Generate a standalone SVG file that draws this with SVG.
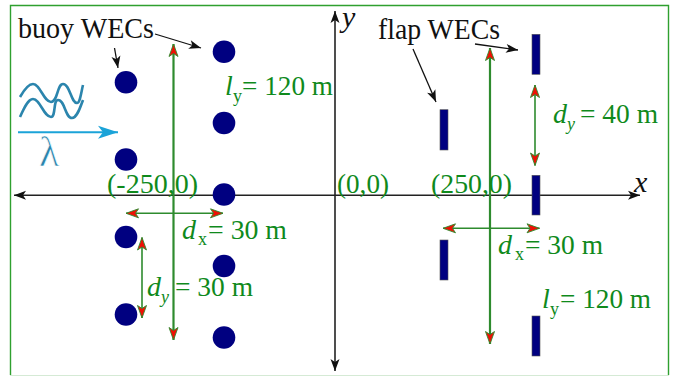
<svg xmlns="http://www.w3.org/2000/svg" width="675" height="376" viewBox="0 0 675 376">
<style>
text{font-family:"Liberation Serif","Times New Roman",serif}
.t{font-size:28.500px;fill:#111}
.g{font-size:28px;fill:#0f8a1c}
.s{font-size:18px;fill:#0f8a1c}
.i{font-style:italic}
.b{fill:#000080}
.f{fill:#000080;stroke:#555;stroke-width:.6}
.ax{stroke:#222;stroke-width:1.600;fill:none}
.p{stroke:#111;stroke-width:1.300;fill:none}
.ga{stroke:#2e8b2e;fill:none}
.w{fill:none;stroke:#2b85ad;stroke-width:2.600}
</style>
<defs>
<marker id="bk" markerUnits="userSpaceOnUse" markerWidth="16" markerHeight="12" refX="13" refY="6" orient="auto-start-reverse"><path d="M13 6L1 1.500L4 6L1 10.500Z" fill="#111"/></marker>
<marker id="gr" markerUnits="userSpaceOnUse" markerWidth="16" markerHeight="14" refX="14.500" refY="7" orient="auto-start-reverse"><path d="M14.500 7L2 2.500L5 7L2 11.500Z" fill="#ee1005" stroke="#2e8b2e" stroke-width=".9"/></marker>
<marker id="cy" markerUnits="userSpaceOnUse" markerWidth="24" markerHeight="16" refX="22" refY="8" orient="auto"><path d="M22 8L2 1.500L7 8L2 14.500Z" fill="#1ba3d8"/></marker>
</defs>
<rect width="675" height="376" fill="#fff"/>
<path d="M10.500 375V5.500H668.500V375" fill="none" stroke="#2fa02f" stroke-width="1.400"/>
<path d="M10 375.500H669" stroke="#d5ead5" stroke-width="1"/>

<g id="connectors">
<path class="ax" d="M640 195.300H14" marker-start="url(#bk)" marker-end="url(#bk)"/>
<path class="ax" d="M335 371V11" marker-start="url(#bk)" marker-end="url(#bk)"/>
<path class="p" d="M155 34L201 48" marker-end="url(#bk)"/>
<path class="p" d="M114.500 48L118 68" marker-end="url(#bk)"/>
<path class="p" d="M413 49L436 102" marker-end="url(#bk)"/>
<path class="p" d="M475 44L518 50" marker-end="url(#bk)"/>
<path class="ga" stroke-width="2.200" d="M173.500 44V340" marker-start="url(#gr)" marker-end="url(#gr)"/>
<path class="ga" stroke-width="2.200" d="M490 48V344" marker-start="url(#gr)" marker-end="url(#gr)"/>
<path class="ga" stroke-width="1.600" d="M126 213.300H223" marker-start="url(#gr)" marker-end="url(#gr)"/>
<path class="ga" stroke-width="1.600" d="M142 237.500V318" marker-start="url(#gr)" marker-end="url(#gr)"/>
<path class="ga" stroke-width="1.600" d="M535 85V165.500" marker-start="url(#gr)" marker-end="url(#gr)"/>
<path class="ga" stroke-width="1.600" d="M443 228.300H539.500" marker-start="url(#gr)" marker-end="url(#gr)"/>
</g>

<g id="buoys">
<circle id="buoy-1" class="b" cx="126" cy="82.300" r="11.300"/>
<circle id="buoy-2" class="b" cx="126" cy="159.500" r="11.300"/>
<circle id="buoy-3" class="b" cx="126" cy="237" r="11.300"/>
<circle id="buoy-4" class="b" cx="126" cy="314.500" r="11.300"/>
<circle id="buoy-5" class="b" cx="224" cy="51.700" r="11.300"/>
<circle id="buoy-6" class="b" cx="224" cy="123" r="11.300"/>
<circle id="buoy-7" class="b" cx="224" cy="194.500" r="11.300"/>
<circle id="buoy-8" class="b" cx="224" cy="266" r="11.300"/>
<circle id="buoy-9" class="b" cx="224" cy="337.500" r="11.300"/>
</g>
<g id="flaps">
<rect id="flap-1" class="f" x="440" y="109.700" width="8" height="40.300"/>
<rect id="flap-2" class="f" x="440" y="240" width="8" height="40"/>
<rect id="flap-3" class="f" x="532" y="34.300" width="8" height="40"/>
<rect id="flap-4" class="f" x="532" y="175.300" width="8" height="39.700"/>
<rect id="flap-5" class="f" x="532" y="316" width="8" height="40"/>
</g>

<g id="wave">
<path class="w" d="M20 97C24 90 28 84 33 84C40 84 44 102 51 102C58 102 57 84 63 84C70 84 71 103 77 103C80 103 81 93 83 85"/>
<path class="w" d="M20 117C24 108 28 99 33 99C40 99 44 117 51 117C56 117 53 100 58 100C65 100 65 118 72 118C77 118 80 108 83 100"/>
<path d="M18 132.300H118" stroke="#1ba3d8" stroke-width="2" marker-end="url(#cy)"/>
<text x="39" y="165.500" style="font-size:42px;fill:#2b85ad;stroke:#fff;stroke-width:.7">λ</text>
</g>

<g id="labels">
<text class="t" x="18" y="38" textLength="136" lengthAdjust="spacingAndGlyphs">buoy WECs</text>
<text class="t" x="378" y="39" textLength="122" lengthAdjust="spacingAndGlyphs">flap WECs</text>
<text class="i" x="342" y="27" style="font-size:30px;fill:#111">y</text>
<text class="i" x="634" y="192" style="font-size:30px;fill:#111">x</text>
<text class="g" x="107" y="193" textLength="91" lengthAdjust="spacingAndGlyphs">(-250,0)</text>
<text class="g" x="337" y="193" textLength="52" lengthAdjust="spacingAndGlyphs">(0,0)</text>
<text class="g" x="431" y="193" textLength="81" lengthAdjust="spacingAndGlyphs">(250,0)</text>

<text class="g i" x="225" y="95">l</text><text class="s" x="233" y="102">y</text>
<text class="g" x="242" y="95" textLength="91" lengthAdjust="spacingAndGlyphs">= 120 m</text>

<text class="g i" x="182" y="239">d</text><text class="s" x="198" y="245">x</text>
<text class="g" x="208" y="239" textLength="79" lengthAdjust="spacingAndGlyphs">= 30 m</text>

<text class="g i" x="147" y="296">d</text><text class="s i" x="161" y="303">y</text>
<text class="g" x="175" y="296" textLength="78" lengthAdjust="spacingAndGlyphs">= 30 m</text>

<text class="g i" x="553" y="123">d</text><text class="s i" x="567" y="130">y</text>
<text class="g" x="580" y="123" textLength="78" lengthAdjust="spacingAndGlyphs">= 40 m</text>

<text class="g i" x="498" y="254">d</text><text class="s" x="515" y="260">x</text>
<text class="g" x="525" y="254" textLength="78" lengthAdjust="spacingAndGlyphs">= 30 m</text>

<text class="g i" x="542" y="308">l</text><text class="s" x="550" y="315">y</text>
<text class="g" x="560" y="308" textLength="91" lengthAdjust="spacingAndGlyphs">= 120 m</text>
</g>
</svg>
